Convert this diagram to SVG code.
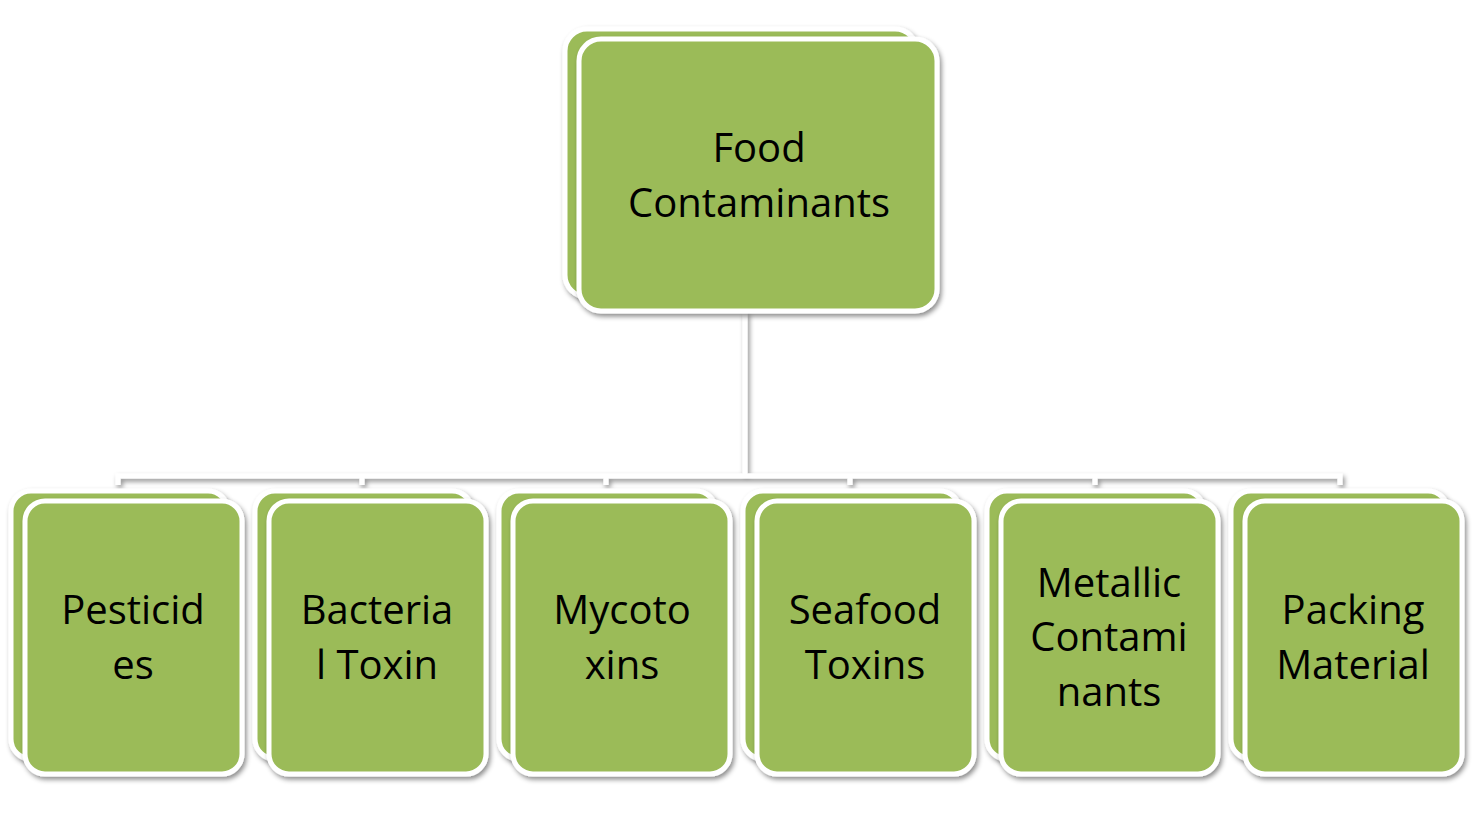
<svg xmlns="http://www.w3.org/2000/svg" width="1478" height="839" viewBox="0 0 1478 839">
<defs>
<style>
.b{fill:#9bbb59;stroke:#fff;stroke-width:5;filter:url(#sh)}
.t{font-family:"Open Sans","Liberation Sans",sans-serif;font-size:40px;fill:#000;text-anchor:middle}
.c{fill:none;stroke:#fff;stroke-width:5;filter:url(#sh)}
</style>
<filter id="sh" x="-10%" y="-10%" width="130%" height="130%">
<feDropShadow dx="2" dy="3" stdDeviation="2.5" flood-color="#000" flood-opacity="0.45"/>
</filter>
</defs>
<rect width="1478" height="839" fill="#fff"/>
<g id="connectors">
<path class="c" d="M745 312V476M118 485V476H1340V485M362 476V485M606 476V485M850 476V485M1095 476V485"/>
</g>
<g id="root">
<rect class="b" x="565" y="29" width="352" height="268" rx="22"/>
<rect class="b" x="579" y="39" width="358" height="272" rx="22"/>
<text class="t" x="759" y="162">Food</text>
<text class="t" x="759" y="217">Contaminants</text>
</g>
<g id="n1">
<rect class="b" x="11" y="491" width="217" height="268" rx="20"/>
<rect class="b" x="25" y="501" width="217" height="273" rx="20"/>
<text class="t" x="133" y="624">Pesticid</text><text class="t" x="133" y="679">es</text>
</g>
<g id="n2">
<rect class="b" x="255" y="491" width="217" height="268" rx="20"/>
<rect class="b" x="269" y="501" width="217" height="273" rx="20"/>
<text class="t" x="377" y="624">Bacteria</text><text class="t" x="377" y="679">l Toxin</text>
</g>
<g id="n3">
<rect class="b" x="499" y="491" width="217" height="268" rx="20"/>
<rect class="b" x="513" y="501" width="217" height="273" rx="20"/>
<text class="t" x="622" y="624">Mycoto</text><text class="t" x="622" y="679">xins</text>
</g>
<g id="n4">
<rect class="b" x="743" y="491" width="217" height="268" rx="20"/>
<rect class="b" x="757" y="501" width="217" height="273" rx="20"/>
<text class="t" x="865" y="624">Seafood</text><text class="t" x="865" y="679">Toxins</text>
</g>
<g id="n5">
<rect class="b" x="987" y="491" width="217" height="268" rx="20"/>
<rect class="b" x="1001" y="501" width="217" height="273" rx="20"/>
<text class="t" x="1109" y="597">Metallic</text><text class="t" x="1109" y="651">Contami</text><text class="t" x="1109" y="706">nants</text>
</g>
<g id="n6">
<rect class="b" x="1231" y="491" width="217" height="268" rx="20"/>
<rect class="b" x="1245" y="501" width="217" height="273" rx="20"/>
<text class="t" x="1353" y="624">Packing</text><text class="t" x="1353" y="679">Material</text>
</g>
</svg>
